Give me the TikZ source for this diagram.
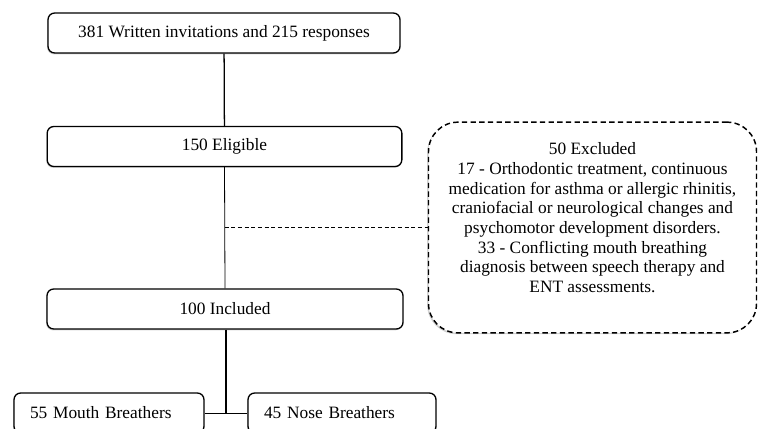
\documentclass[tikz,border=0pt]{standalone}
\usepackage{fontspec}
\setmainfont{Liberation Serif}
\usetikzlibrary{shadows}

\begin{document}
\begin{tikzpicture}[
      x=0.75pt, y=-0.75pt,
      font=\fontsize{13pt}{14.8pt}\selectfont,
      stage/.style={draw, line width=1pt, rounded corners=5pt, fill=white,
        minimum height=30pt, inner sep=0pt,
        drop shadow={shadow xshift=-0.6pt, shadow yshift=-1pt, opacity=0.35}},
      group/.style={stage, inner xsep=12pt, align=left},
      excl/.style={draw, line width=1.1pt, dash pattern=on 4pt off 2.5pt,
        rounded corners=22pt, fill=white, align=center,
        drop shadow={shadow xshift=-1pt, shadow yshift=-1pt, opacity=0.35}},
      flow/.style={line width=0.95pt},
      thinflow/.style={line width=0.6pt},
      side/.style={line width=0.7pt, densely dashed}
    ]
    \useasboundingbox (0,0) rectangle (759,428);
    \clip (0,0) rectangle (759,428);
    % Draw the main stages.
    \node[stage, minimum width=264pt] (invited) at (224,33) {381 Written invitations and 215 responses};
    \node[stage, minimum width=266pt] (eligible) at (224.5,146.5) {150 Eligible};
    \node[stage, minimum width=267pt] (included) at (225,309) {100 Included};
    % Draw the two groups.
    \node[group, text width=118.5pt] (mouth) at (109,413) {55 Mouth Breathers};
    \node[group, text width=117pt] (nose) at (342,413) {45 Nose Breathers};
    % Draw the exclusion box (text sits above the middle).
    \node[excl, minimum width=246pt, minimum height=158pt] (excluded) at (592.5,227.5)
      {50 Excluded\\17 - Orthodontic treatment, continuous\\medication for asthma or allergic rhinitis,\\craniofacial or neurological changes and\\psychomotor development disorders.\\33 - Conflicting mouth breathing\\diagnosis between speech therapy and\\ENT assessments.\\ };
    % Draw the connections.
    \coordinate (split) at (226,413);
    \draw[flow] (invited) -- (eligible);
    \draw[thinflow] (eligible.south) -- (included.north);
    \draw[side] (eligible.south |- excluded.west) -- (excluded.west);
    \draw[flow] (included.south -| split) -- (split);
    \draw[thinflow] (mouth.east) -- (nose.west);
\end{tikzpicture}
\end{document}
